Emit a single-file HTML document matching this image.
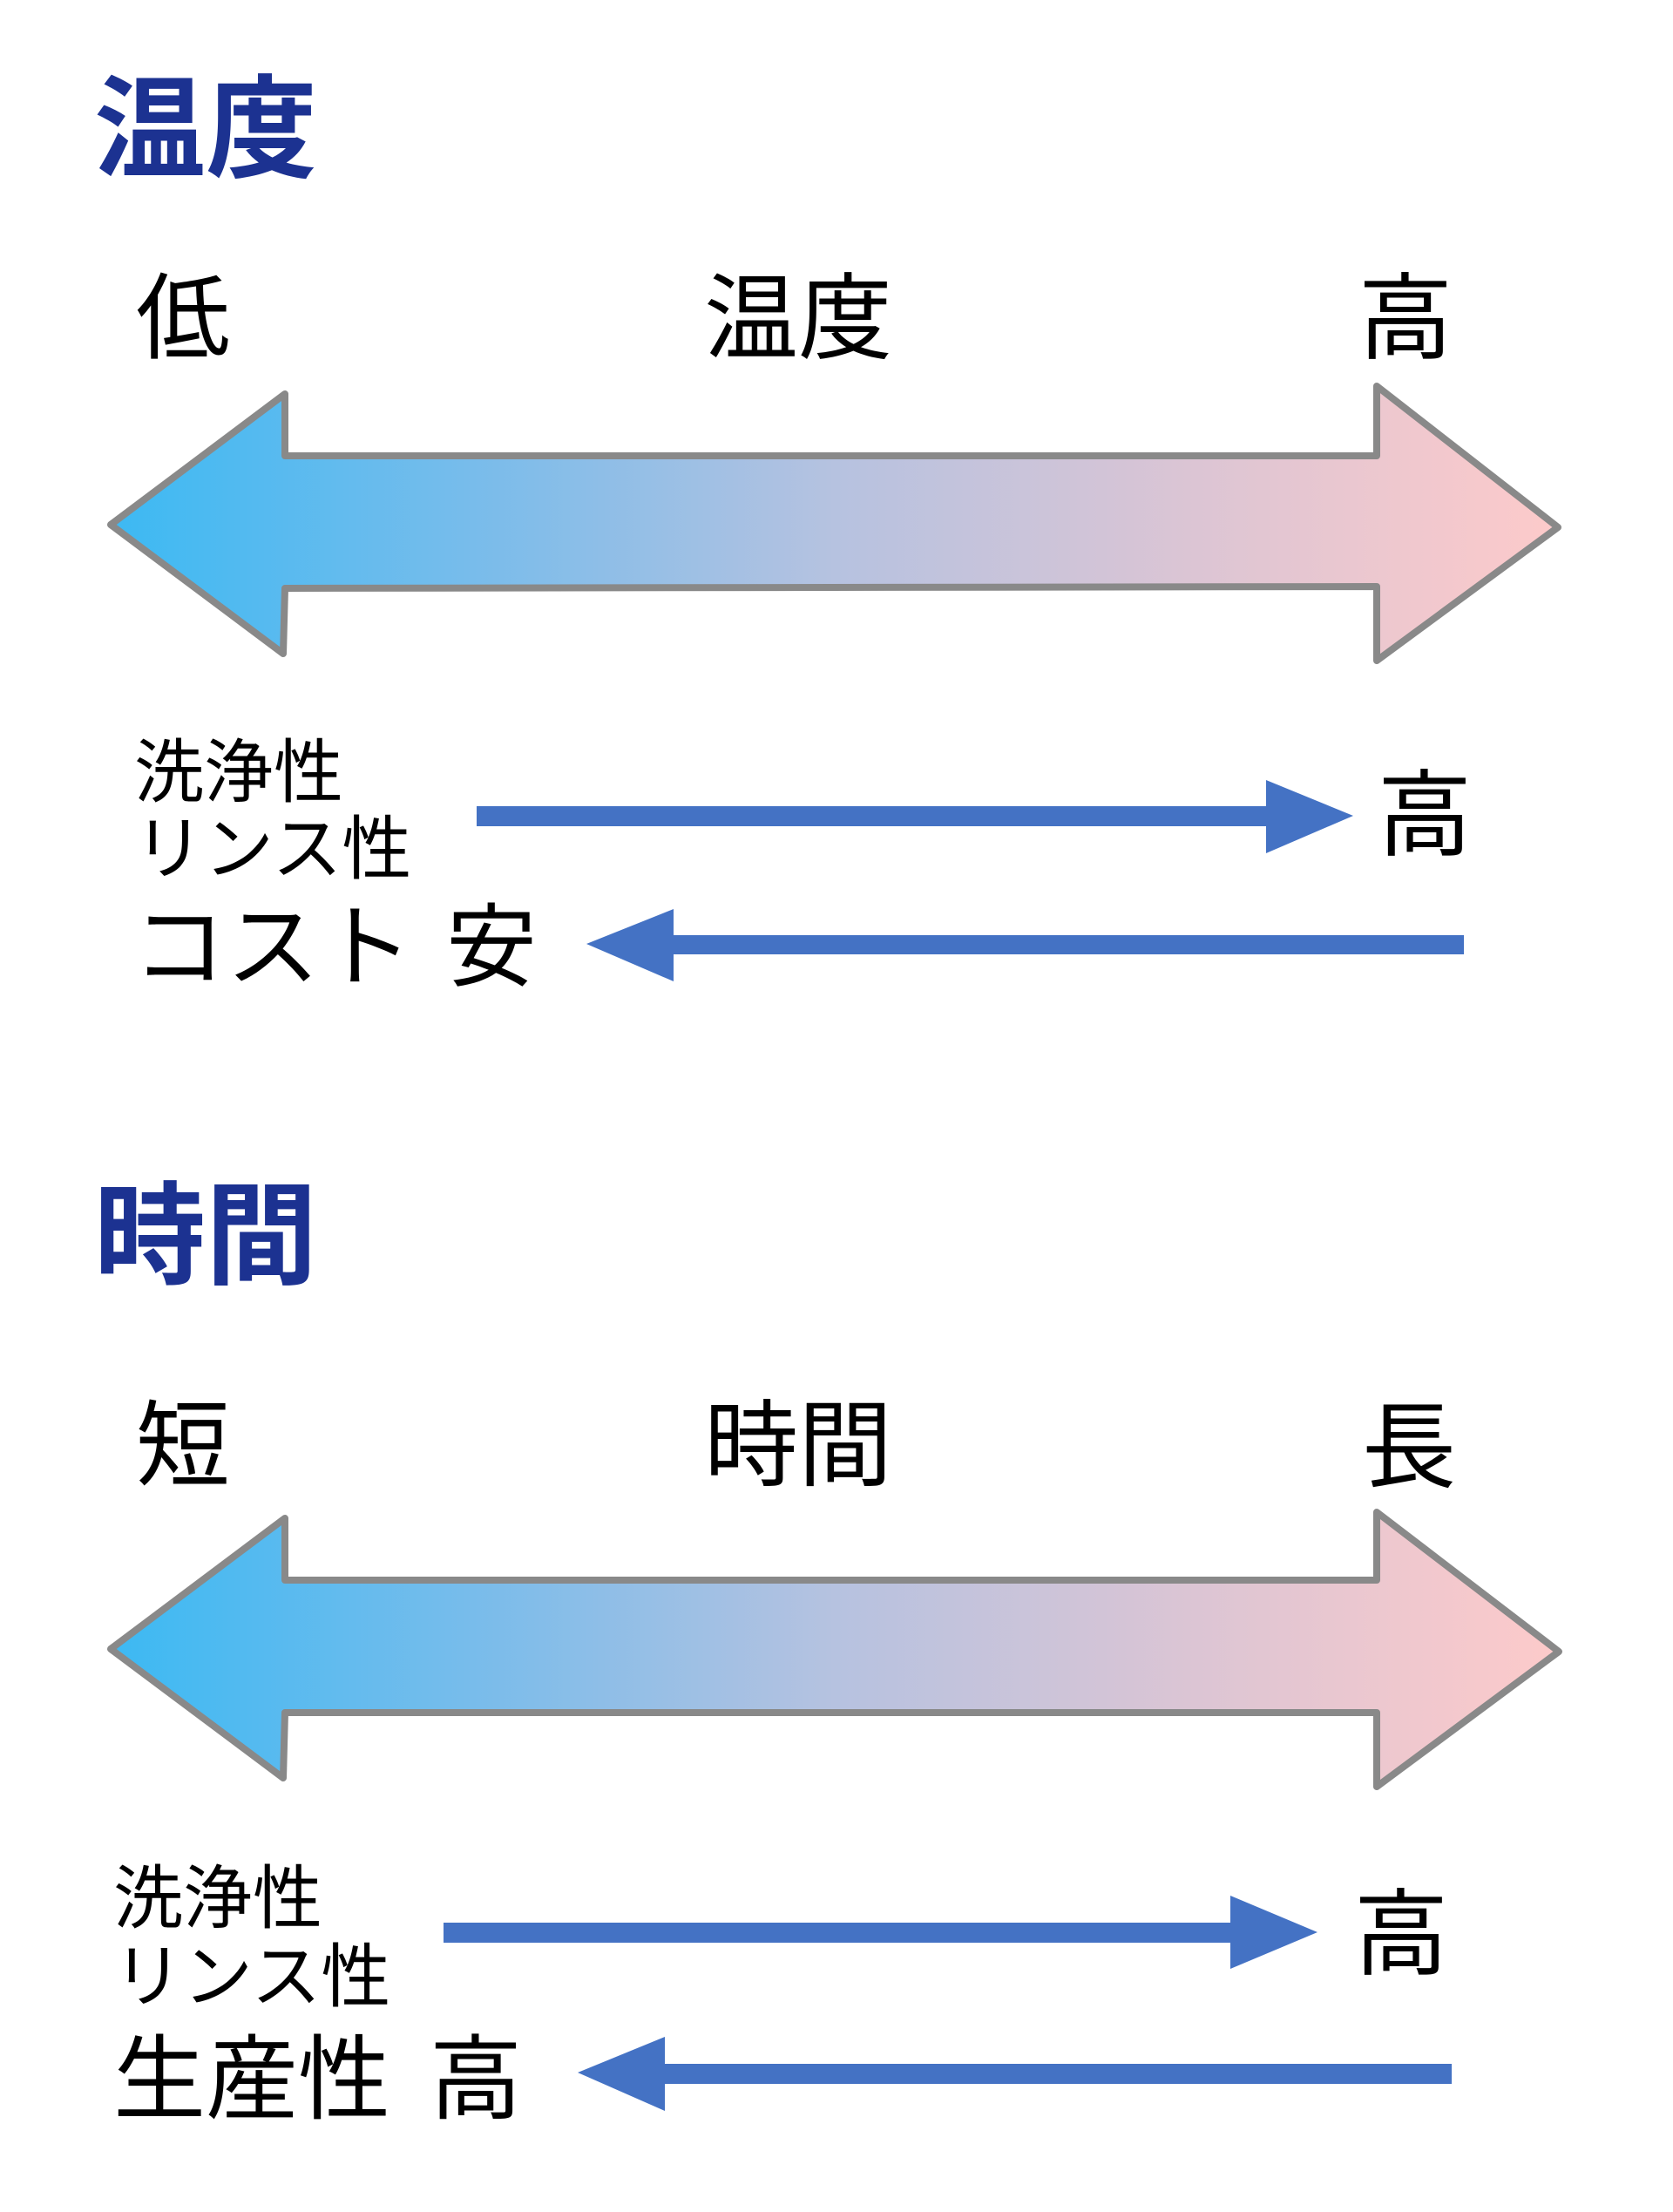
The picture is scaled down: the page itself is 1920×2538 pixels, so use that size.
<!DOCTYPE html>
<html lang="ja">
<head>
<meta charset="utf-8">
<style>
  html, body { margin: 0; padding: 0; background: #ffffff; }
  svg { display: block; }
  text { font-family: "Liberation Sans", "Noto Sans CJK JP", sans-serif; fill: #000; }
  .title { font-weight: 700; fill: #1c3291; }
</style>
</head>
<body>
<svg width="1920" height="2538" viewBox="0 0 1920 2538" xmlns="http://www.w3.org/2000/svg">
  <defs>
    <linearGradient id="g1" gradientUnits="userSpaceOnUse" x1="127" y1="0" x2="1789" y2="0">
      <stop offset="0" stop-color="#3cb9f3"/>
      <stop offset="0.25" stop-color="#78bceb"/>
      <stop offset="0.5" stop-color="#b6c2e0"/>
      <stop offset="0.75" stop-color="#dcc5d4"/>
      <stop offset="1" stop-color="#fdcaca"/>
    </linearGradient>
  </defs>
  <rect x="0" y="0" width="1920" height="2538" fill="#ffffff"/>

  <!-- ===== Section 1: 温度 ===== -->
  <text class="title" x="108" y="193" font-size="128">温度</text>

  <text x="156" y="403" font-size="108">低</text>
  <text x="808" y="403" font-size="108">温度</text>
  <text x="1559" y="403" font-size="108">高</text>

  <polygon points="127,602 327,452 327,523 1580,523 1580,443 1788,605 1580,758 1580,673 327,675 325,750"
           fill="url(#g1)" stroke="#898989" stroke-width="8" stroke-linejoin="round"/>

  <text x="154" y="914" font-size="80">洗浄性</text>
  <text x="154" y="1002" font-size="80">リンス性</text>
  <text x="152" y="1123" font-size="104" textLength="322" lengthAdjust="spacingAndGlyphs">コスト</text>
  <text x="512" y="1123" font-size="104">安</text>

  <!-- right-pointing blue arrow -->
  <rect x="547" y="925" width="907" height="23" fill="#4472c4"/>
  <polygon points="1453,895 1553,936 1453,979" fill="#4472c4"/>
  <text x="1581" y="973" font-size="108">高</text>

  <!-- left-pointing blue arrow -->
  <rect x="772" y="1073" width="908" height="22" fill="#4472c4"/>
  <polygon points="773,1043 673,1083 773,1126" fill="#4472c4"/>

  <!-- ===== Section 2: 時間 ===== -->
  <text class="title" x="108" y="1463" font-size="128">時間</text>

  <text x="156" y="1696" font-size="108">短</text>
  <text x="808" y="1696" font-size="108">時間</text>
  <text x="1563" y="1698" font-size="108">長</text>

  <polygon points="127,1892 327,1742 327,1813 1580,1813 1580,1735 1789,1895 1580,2050 1580,1965 327,1965 325,2040"
           fill="url(#g1)" stroke="#898989" stroke-width="8" stroke-linejoin="round"/>

  <text x="130" y="2206" font-size="80">洗浄性</text>
  <text x="130" y="2296" font-size="80">リンス性</text>
  <text x="130" y="2423" font-size="106">生産性</text>
  <text x="493" y="2423" font-size="106">高</text>

  <!-- right-pointing blue arrow -->
  <rect x="509" y="2206" width="904" height="23" fill="#4472c4"/>
  <polygon points="1412,2175 1512,2217 1412,2259" fill="#4472c4"/>
  <text x="1554" y="2257" font-size="108">高</text>

  <!-- left-pointing blue arrow -->
  <rect x="762" y="2368" width="904" height="23" fill="#4472c4"/>
  <polygon points="763,2337 663,2378 763,2422" fill="#4472c4"/>
</svg>
</body>
</html>
